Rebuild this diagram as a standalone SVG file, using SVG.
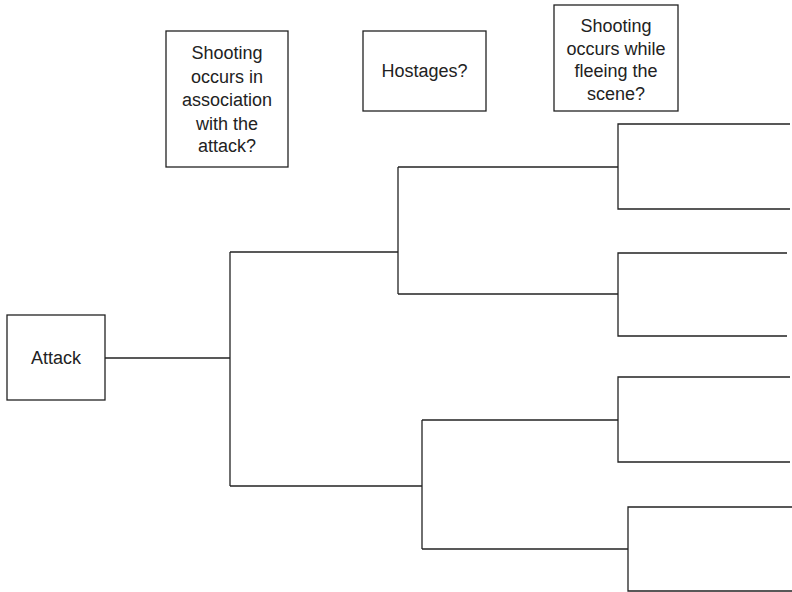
<svg xmlns="http://www.w3.org/2000/svg" width="792" height="592" viewBox="0 0 792 592">
<style>
.box{fill:#fff;stroke:#222;stroke-width:1.3}
.lbl{font-family:"Liberation Sans",Arial,sans-serif;font-size:18px;fill:#222;text-anchor:middle}
.conn{fill:none;stroke:#222;stroke-width:1.3}
</style>
<rect width="792" height="592" fill="#fff"/>
<g id="connectors" class="conn">
<path d="M105,358 H230"/>
<path d="M230,252 V486"/>
<path d="M230,252 H398"/>
<path d="M230,486 H422"/>
<path d="M398,167 V294"/>
<path d="M398,167 H618"/>
<path d="M398,294 H618"/>
<path d="M422,420 V549"/>
<path d="M422,420 H618"/>
<path d="M422,549 H628"/>
<path d="M790,124 H618 V209 H790"/>
<path d="M787,253 H618 V336 H787"/>
<path d="M790,377 H618 V462 H790"/>
<path d="M792,507 H628 V591 H792"/>
</g>
<g id="node-attack">
<rect class="box" x="7" y="315" width="98" height="85"/>
<text class="lbl" x="56" y="364">Attack</text>
</g>
<g id="node-shooting-association">
<rect class="box" x="166" y="31" width="122" height="136"/>
<text class="lbl" x="227" y="59">Shooting</text>
<text class="lbl" x="227" y="82.5">occurs in</text>
<text class="lbl" x="227" y="106">association</text>
<text class="lbl" x="227" y="129.5">with the</text>
<text class="lbl" x="227" y="152">attack?</text>
</g>
<g id="node-hostages">
<rect class="box" x="363" y="31" width="123" height="80"/>
<text class="lbl" x="424.5" y="77">Hostages?</text>
</g>
<g id="node-shooting-fleeing">
<rect class="box" x="554" y="5" width="124" height="106"/>
<text class="lbl" x="616" y="32">Shooting</text>
<text class="lbl" x="616" y="54.5">occurs while</text>
<text class="lbl" x="616" y="77">fleeing the</text>
<text class="lbl" x="616" y="99.5">scene?</text>
</g>
</svg>
